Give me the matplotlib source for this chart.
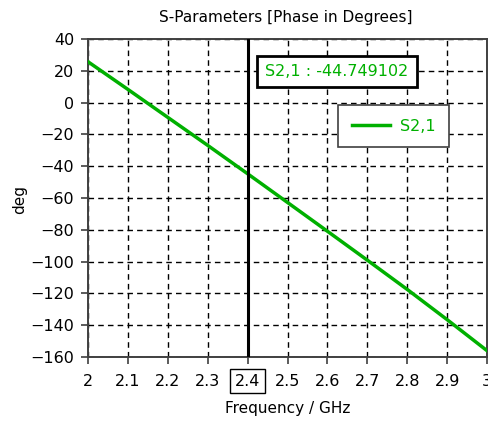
import matplotlib
matplotlib.use("Agg")
import matplotlib.pyplot as plt

# S2,1 phase in degrees versus frequency
freq_ghz = [2.0, 2.1, 2.2, 2.3, 2.4, 2.5, 2.6, 2.7, 2.8, 2.9, 3.0]
phase_deg = [25.7, 8.3, -9.3, -26.9, -44.749102, -62.8, -80.9, -99.1, -117.5, -136.5, -156.0]
marker_freq = 2.4
marker_value = -44.749102
series_name = "S2,1"
x_ticks = [2.0, 2.1, 2.2, 2.3, 2.4, 2.5, 2.6, 2.7, 2.8, 2.9, 3.0]
x_tick_labels = ["2", "2.1", "2.2", "2.3", "2.4", "2.5", "2.6", "2.7", "2.8", "2.9", "3"]
y_ticks = list(range(-160, 41, 20))

GREEN = "#00b000"
DARK = "#404040"
FS = 11.5

plt.rcParams["font.family"] = ["DejaVu Sans"]

fig = plt.figure(figsize=(4.88, 4.21), dpi=100)
ax = fig.add_axes([88 / 488, 1 - 357 / 421, 399 / 488, 318 / 421])

ax.plot(freq_ghz, phase_deg, color=GREEN, lw=2.5, label=series_name, zorder=3)
ax.axvline(marker_freq, color="black", lw=2.2, zorder=4)

ax.set_xlim(2.0, 3.0)
ax.set_ylim(-160, 40)
ax.set_xticks(x_ticks)
ax.set_xticklabels(x_tick_labels)
ax.set_yticks(y_ticks)
ax.tick_params(direction="out", length=5, width=1.2, color=DARK, labelsize=FS,
               labelcolor="black")
ax.tick_params(axis="x", pad=7)
ax.tick_params(axis="y", pad=5)
ax.grid(True, color="black", lw=1.0, linestyle=(0, (4, 3)))
for side in ["left", "bottom", "top", "right"]:
    ax.spines[side].set_color(DARK)
    ax.spines[side].set_linewidth(1.4)

# box around the marker frequency tick label
for lbl, val in zip(ax.get_xticklabels(), x_ticks):
    if abs(val - marker_freq) < 1e-9:
        lbl.set_bbox(dict(boxstyle="square,pad=0.3", fc="white", ec="black", lw=1.0))

ax.set_title("S-Parameters [Phase in Degrees]", fontsize=11, pad=12, x=0.495)
ax.set_xlabel("Frequency / GHz", fontsize=11, labelpad=9)
ax.set_ylabel("deg", fontsize=11, va="center")
ax.yaxis.set_label_coords(-0.172, 0.494)

# marker readout box
ax.text(0.624, 0.899, f"{series_name} : {marker_value:.6f}", transform=ax.transAxes,
        ha="center", va="center", color=GREEN, fontsize=FS, zorder=6,
        bbox=dict(boxstyle="square,pad=0.5", fc="white", ec="black", lw=2.0))

leg = ax.legend(loc="upper left", bbox_to_anchor=(0.6275, 0.792), borderaxespad=0,
                fancybox=False, framealpha=1, edgecolor=DARK, fontsize=FS,
                handlelength=2.4, handletextpad=0.6, borderpad=0.85)
leg.get_frame().set_linewidth(1.2)
for t in leg.get_texts():
    t.set_color(GREEN)

fig.savefig("out.png", dpi=100)
